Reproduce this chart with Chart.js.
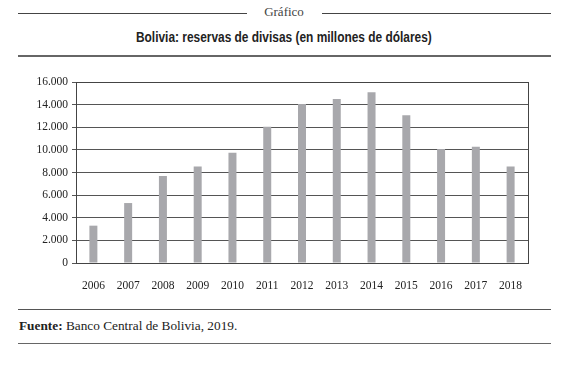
<!DOCTYPE html>
<html>
<head>
<meta charset="utf-8">
<script src="https://cdn.jsdelivr.net/npm/chart.js@4"></script>
<style>
  body { margin: 0; background: #fff; width: 571px; height: 365px; position: relative; overflow: hidden; }
  .line { position: absolute; background: #444; height: 1px; }
  .txt { position: absolute; white-space: nowrap; }
  #chartBox { position: absolute; left: 0; top: 70px; width: 560px; height: 225px; }
  #titulo { position: absolute; left: 285px; top: 28px; font: bold 15px 'Liberation Sans', sans-serif; color: #222; white-space: nowrap; transform-origin: 0 0; }
</style>
</head>
<body>
<div class="line" style="left:18px; top:13px; width:229px;"></div>
<div class="line" style="left:322px; top:13px; width:229px;"></div>
<div class="txt" style="left:234px; width:100px; top:4px; text-align:center; font:13px 'Liberation Serif', serif; color:#444;">Gráfico</div>
<div id="titulo">Bolivia: reservas de divisas (en millones de dólares)</div>
<div class="line" style="left:18px; top:55px; width:533px; height:2px; background:#666;"></div>

<div id="chartBox"><canvas id="chart1"></canvas></div>

<div class="line" style="left:18px; top:309px; width:533px; background:#555;"></div>
<div class="txt" style="left:19px; top:318px; font:13.3px 'Liberation Serif', serif; color:#222;"><b>Fuente:</b> Banco Central de Bolivia, 2019.</div>
<div class="line" style="left:18px; top:343px; width:533px; background:#666;"></div>

<script>
var years = ['2006', '2007', '2008', '2009', '2010', '2011', '2012', '2013', '2014', '2015', '2016', '2017', '2018']
var reservas = [3300, 5300, 7700, 8520, 9750, 12050, 14050, 14500, 15100, 13050, 10080, 10280, 8520]
var yTicks = [0, 2000, 4000, 6000, 8000, 10000, 12000, 14000, 16000]

function puntoMiles(v) {
    return String(v).replace(/\B(?=(\d{3})+(?!\d))/g, '.')
}

// titulo en letra estrecha: se comprime a lo ancho
var t = document.getElementById('titulo')
var escala = 296 / t.offsetWidth
t.style.transform = 'scaleX(' + escala + ')'
t.style.left = (284 - 148) + 'px'

// marco del area del grafico
var marco = {
    id: 'marco',
    afterDraw: function(chart) {
        var a = chart.chartArea
        var ctx = chart.ctx
        ctx.save()
        ctx.strokeStyle = '#444'
        ctx.lineWidth = 1
        ctx.strokeRect(Math.round(a.left) + 0.5, Math.round(a.top) + 0.5, Math.round(a.right - a.left), Math.round(a.bottom - a.top))
        ctx.restore()
    }
}

var tickFont = { family: "'Liberation Serif', serif", size: 11.5 }

window.onload = () => {
    var ctx = document.getElementById('chart1').getContext('2d')
    new Chart(ctx, {
        type: 'bar',
        data: {
            labels: years,
            datasets: [{
                data: reservas,
                backgroundColor: '#a8a8ac',
                borderWidth: 0,
                barPercentage: 0.5,
                categoryPercentage: 0.46
            }]
        },
        options: {
            responsive: true,
            maintainAspectRatio: false,
            animation: false,
            layout: { padding: { left: 0, top: 12, right: 32, bottom: 0 } },
            plugins: { legend: { display: false }, tooltip: { enabled: false } },
            scales: {
                x: {
                    grid: { display: false },
                    border: { display: true, color: '#444' },
                    ticks: { font: tickFont, color: '#222', padding: 8, maxRotation: 0 },
                    afterFit: function(s) { s.height = 32 }
                },
                y: {
                    min: 0,
                    max: 16000,
                    afterBuildTicks: function(s) { s.ticks = yTicks.map(v => ({ value: v })) },
                    grid: { color: '#555', lineWidth: 1, tickLength: 4 },
                    border: { display: true, color: '#444' },
                    ticks: { font: tickFont, color: '#222', padding: 4, callback: v => puntoMiles(v) },
                    afterFit: function(s) { s.width = 76 }
                }
            }
        },
        plugins: [marco]
    })
}
</script>
</body>
</html>
